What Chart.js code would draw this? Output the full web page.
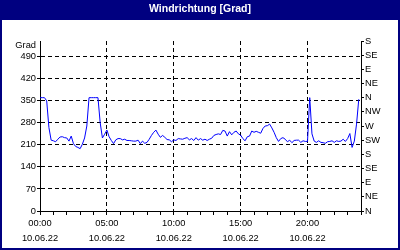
<!DOCTYPE html>
<html>
<head>
<meta charset="utf-8">
<script src="https://cdn.jsdelivr.net/npm/chart.js@4.4.0/dist/chart.umd.min.js"></script>
<style>
    html, body { margin: 0; padding: 0; background: #fff; }
    canvas { display: block; }
</style>
</head>
<body>
<canvas id="wind_chart" width="400" height="250"></canvas>
<script>
var titleText = 'Windrichtung [Grad]';
var unitLabel = 'Grad';
var dateLabel = '10.06.22';
var hourLabels = ['00:00', '05:00', '10:00', '15:00', '20:00'];
var gradTicks = [0, 70, 140, 210, 280, 350, 420, 490];
var compassTicks = [0, 45, 90, 135, 180, 225, 270, 315, 360, 405, 450, 495, 540];
var compassLabels = ['N', 'NE', 'E', 'SE', 'S', 'SW', 'W', 'NW', 'N', 'NE', 'E', 'SE', 'S'];
var stepMinutes = 10;

// one value every 10 minutes, 00:00 .. 23:50
var windValues = [
    360, 360, 360, 350, 265, 225,
    223, 220, 228, 235, 236, 233,
    232, 222, 238, 214, 205, 202,
    198, 212, 232, 270, 360, 360,
    360, 360, 360, 280, 232, 244,
    257, 236, 224, 214, 226, 230,
    230, 226, 228, 224, 224, 223,
    222, 222, 225, 214, 222, 215,
    218, 228, 240, 250, 257, 244,
    234, 240, 234, 227, 226, 220,
    226, 224, 230, 229, 228, 231,
    233, 226, 230, 224, 233, 225,
    230, 225, 228, 224, 228, 231,
    240, 243, 245, 243, 256, 254,
    238, 252, 242, 250, 254, 245,
    241, 230, 223, 236, 238, 254,
    250, 253, 250, 247, 262, 270,
    271, 276, 264, 250, 233, 221,
    230, 233, 228, 220, 225, 217,
    224, 225, 225, 218, 223, 221,
    221, 360, 245, 222, 218, 223,
    218, 217, 215, 220, 221, 223,
    218, 223, 221, 222, 228, 221,
    230, 246, 202, 222, 276, 355
];

var navy = '#000080';
var tickFont = { family: 'Liberation Sans', size: 9.3 };

var points = windValues.map(function (v, i) {
    return { x: i * stepMinutes / 60, y: v };
});

var hourTicks = [];
for (var h = 0; h <= 24; h++) hourTicks.push(h);

// frame, title bar and unit label
var framePlugin = {
    id: 'frame',
    beforeDraw: function (chart) {
        var c = chart.ctx;
        c.save();
        c.fillStyle = '#fff';
        c.fillRect(0, 0, chart.width, chart.height);
        c.fillStyle = navy;
        c.fillRect(0, 0, chart.width, 20);
        c.fillRect(0, 0, 2, chart.height);
        c.fillRect(chart.width - 2, 0, 2, chart.height);
        c.fillRect(0, chart.height - 2, chart.width, 2);
        c.fillStyle = '#fff';
        c.font = 'bold 10.5px "Liberation Sans"';
        c.textAlign = 'center';
        c.textBaseline = 'middle';
        c.fillText(titleText, chart.width / 2, 9);
        c.fillStyle = '#000';
        c.font = '9.3px "Liberation Sans"';
        c.textAlign = 'right';
        c.fillText(unitLabel, 36, 45);
        c.restore();
    }
};

new Chart(document.getElementById('wind_chart').getContext('2d'), {
    type: 'line',
    data: {
        datasets: [{
            data: points,
            borderColor: '#0000ff',
            borderWidth: 1,
            pointRadius: 0,
            tension: 0,
            fill: false
        }]
    },
    options: {
        responsive: false,
        animation: false,
        layout: { padding: { top: 41, left: 0, right: 0, bottom: 0 } },
        plugins: {
            legend: { display: false },
            tooltip: { enabled: false },
            title: { display: false }
        },
        scales: {
            x: {
                type: 'linear',
                min: 0,
                max: 24,
                afterBuildTicks: function (scale) {
                    scale.ticks = hourTicks.map(function (v) { return { value: v }; });
                },
                afterFit: function (scale) { scale.height = 39; },
                grid: {
                    color: function (ctx) {
                        var v = ctx.tick ? ctx.tick.value : 0;
                        return (v % 5 === 0 && v > 0 && v < 24) ? '#000' : 'rgba(0,0,0,0)';
                    },
                    tickColor: '#000',
                    tickLength: 4
                },
                border: { display: true, color: '#000', width: 1, dash: [4, 3] },
                ticks: {
                    autoSkip: false,
                    maxRotation: 0,
                    padding: 1,
                    color: '#000',
                    font: { family: 'Liberation Sans', size: 9.3, lineHeight: 1.64 },
                    callback: function (value) {
                        if (value % 5 === 0 && value < 24) return [hourLabels[value / 5], dateLabel];
                        return '';
                    }
                }
            },
            y: {
                position: 'left',
                min: 0,
                max: 540,
                afterBuildTicks: function (scale) {
                    scale.ticks = gradTicks.map(function (v) { return { value: v }; });
                },
                afterFit: function (scale) { scale.width = 40; },
                grid: {
                    color: '#000',
                    tickColor: '#000',
                    tickLength: 3
                },
                border: { display: true, color: '#000', width: 1, dash: [4, 3] },
                ticks: {
                    padding: 1,
                    color: '#000',
                    font: tickFont
                }
            },
            compass: {
                position: 'right',
                min: 0,
                max: 540,
                afterBuildTicks: function (scale) {
                    scale.ticks = compassTicks.map(function (v) { return { value: v }; });
                },
                afterFit: function (scale) { scale.width = 39; },
                grid: {
                    drawOnChartArea: false,
                    color: '#000',
                    tickColor: '#000',
                    tickLength: 3
                },
                border: { display: true, color: '#000', width: 1 },
                ticks: {
                    padding: 1,
                    color: '#000',
                    font: tickFont,
                    callback: function (value, index) { return compassLabels[index]; }
                }
            }
        }
    },
    plugins: [framePlugin]
});
</script>
</body>
</html>
